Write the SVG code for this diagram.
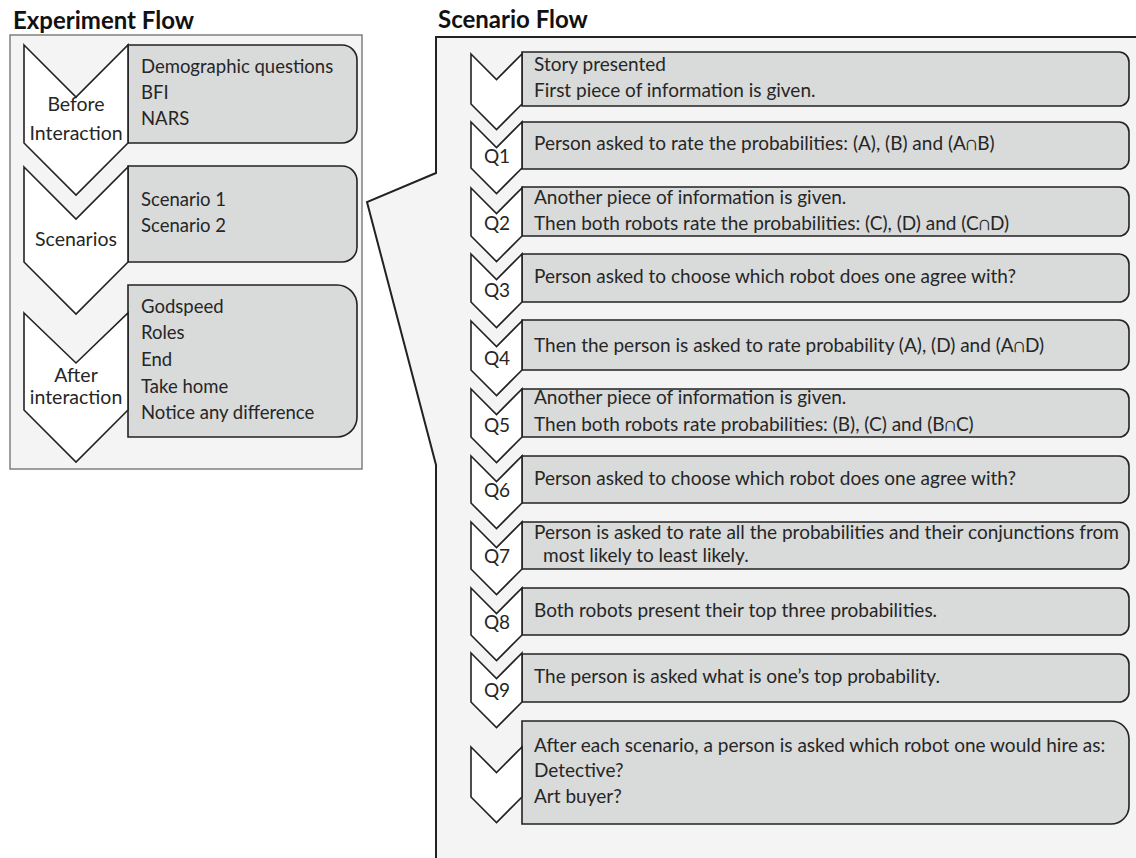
<svg xmlns="http://www.w3.org/2000/svg" width="1136" height="858" viewBox="0 0 1136 858">
<style>
text{font-family:Lato,"Liberation Sans",sans-serif;font-size:19px;fill:#262626}
.title{font-weight:bold;font-size:24px;fill:#111}
.l{font-size:18.5px}
.c{text-anchor:middle;font-size:19.5px}
.q{text-anchor:middle;font-size:19px}
.box{fill:#d9dada;stroke:#222;stroke-width:1.6}
.chev{fill:#fff;stroke:#222;stroke-width:1.6;stroke-linejoin:miter}
.lp{fill:#f4f4f4;stroke:#808080;stroke-width:1.5}
.rp{fill:#f4f4f4;stroke:#222;stroke-width:2}
</style>
<rect width="1136" height="858" fill="#fff"/>
<g id="experiment-flow">
<text class="title" x="13" y="29">Experiment Flow</text>
<rect class="lp" x="10" y="35" width="352" height="434"/>
</g>
<g id="connectors">
<polygon id="scenario-panel" class="rp" points="436,37 1140,37 1140,862 436,862 436,465 367,202 436,173"/>
</g>
<text class="title" x="438" y="28">Scenario Flow</text>

<g id="before">
<path class="box" d="M128,45 H342 A15,15 0 0 1 357,60 V128 A15,15 0 0 1 342,143 H128 Z"/>
<polygon class="chev" points="24,45 76,97 128,45 128,143 76,195 24,143"/>
<text class="c" x="76" y="111">Before</text>
<text class="c" x="76" y="140">Interaction</text>
<text class="l" x="141" y="73">Demographic questions</text>
<text class="l" x="141" y="99">BFI</text>
<text class="l" x="141" y="125">NARS</text>
</g>
<g id="scenarios">
<path class="box" d="M128,166 H342 A15,15 0 0 1 357,181 V247 A15,15 0 0 1 342,262 H128 Z"/>
<polygon class="chev" points="24,167 76,219 128,167 128,262 76,314 24,262"/>
<text class="c" x="76" y="246">Scenarios</text>
<text class="l" x="141" y="206">Scenario 1</text>
<text class="l" x="141" y="232">Scenario 2</text>
</g>
<g id="after">
<path class="box" d="M128,285 H337 A20,20 0 0 1 357,305 V417 A20,20 0 0 1 337,437 H128 Z"/>
<polygon class="chev" points="24,313 76,363 128,313 128,410 76,462 24,410"/>
<text class="c" x="76" y="382">After</text>
<text class="c" x="76" y="404">interaction</text>
<text class="l" x="141" y="313">Godspeed</text>
<text class="l" x="141" y="339">Roles</text>
<text class="l" x="141" y="366">End</text>
<text class="l" x="141" y="393">Take home</text>
<text class="l" x="141" y="419">Notice any difference</text>
</g>

<g id="s0">
<path class="box" d="M522,52 H1119 A10,10 0 0 1 1129,62 V96 A10,10 0 0 1 1119,106 H522 Z"/>
<polygon class="chev" points="471,54 496.5,79.5 522,54 522,104 496.5,129.5 471,104"/>
<text x="534" y="71">Story presented</text>
<text x="534" y="97">First piece of information is given.</text>
</g>
<g id="q1">
<path class="box" d="M522,122 H1119 A10,10 0 0 1 1129,132 V159 A10,10 0 0 1 1119,169 H522 Z"/>
<polygon class="chev" points="471,122 496.5,147.5 522,122 522,168 496.5,193.5 471,168"/>
<text class="q" x="497" y="163">Q1</text>
<text x="534" y="150">Person asked to rate the probabilities: (A), (B) and (A∩B)</text>
</g>
<g id="q2">
<path class="box" d="M522,187 H1119 A10,10 0 0 1 1129,197 V226 A10,10 0 0 1 1119,236 H522 Z"/>
<polygon class="chev" points="471,188 496.5,213.5 522,188 522,236 496.5,261.5 471,236"/>
<text class="q" x="497" y="230">Q2</text>
<text x="534" y="204">Another piece of information is given.</text>
<text x="534" y="230">Then both robots rate the probabilities: (C), (D) and (C∩D)</text>
</g>
<g id="q3">
<path class="box" d="M522,254 H1119 A10,10 0 0 1 1129,264 V292 A10,10 0 0 1 1119,302 H522 Z"/>
<polygon class="chev" points="471,254 496.5,279.5 522,254 522,302 496.5,327.5 471,302"/>
<text class="q" x="497" y="297">Q3</text>
<text x="534" y="283">Person asked to choose which robot does one agree with?</text>
</g>
<g id="q4">
<path class="box" d="M522,320 H1119 A10,10 0 0 1 1129,330 V360 A10,10 0 0 1 1119,370 H522 Z"/>
<polygon class="chev" points="471,321 496.5,346.5 522,321 522,370 496.5,395.5 471,370"/>
<text class="q" x="497" y="365">Q4</text>
<text x="534" y="352">Then the person is asked to rate probability (A), (D) and (A∩D)</text>
</g>
<g id="q5">
<path class="box" d="M522,389 H1119 A10,10 0 0 1 1129,399 V427 A10,10 0 0 1 1119,437 H522 Z"/>
<polygon class="chev" points="471,389 496.5,414.5 522,389 522,437 496.5,462.5 471,437"/>
<text class="q" x="497" y="432">Q5</text>
<text x="534" y="404">Another piece of information is given.</text>
<text x="534" y="431">Then both robots rate probabilities: (B), (C) and (B∩C)</text>
</g>
<g id="q6">
<path class="box" d="M522,456 H1119 A10,10 0 0 1 1129,466 V493 A10,10 0 0 1 1119,503 H522 Z"/>
<polygon class="chev" points="471,456 496.5,481.5 522,456 522,503 496.5,528.5 471,503"/>
<text class="q" x="497" y="497">Q6</text>
<text x="534" y="485">Person asked to choose which robot does one agree with?</text>
</g>
<g id="q7">
<path class="box" d="M522,522 H1119 A10,10 0 0 1 1129,532 V559 A10,10 0 0 1 1119,569 H522 Z"/>
<polygon class="chev" points="471,522 496.5,547.5 522,522 522,569 496.5,594.5 471,569"/>
<text class="q" x="497" y="563">Q7</text>
<text x="534" y="539">Person is asked to rate all the probabilities and their conjunctions from</text>
<text x="543" y="562">most likely to least likely.</text>
</g>
<g id="q8">
<path class="box" d="M522,588 H1119 A10,10 0 0 1 1129,598 V625 A10,10 0 0 1 1119,635 H522 Z"/>
<polygon class="chev" points="471,588 496.5,613.5 522,588 522,635 496.5,660.5 471,635"/>
<text class="q" x="497" y="629">Q8</text>
<text x="534" y="617">Both robots present their top three probabilities.</text>
</g>
<g id="q9">
<path class="box" d="M522,654 H1119 A10,10 0 0 1 1129,664 V692 A10,10 0 0 1 1119,702 H522 Z"/>
<polygon class="chev" points="471,653 496.5,678.5 522,653 522,702 496.5,727.5 471,702"/>
<text class="q" x="497" y="697">Q9</text>
<text x="534" y="683">The person is asked what is one’s top probability.</text>
</g>
<g id="final">
<path class="box" d="M522,721 H1111 A18,18 0 0 1 1129,739 V806 A18,18 0 0 1 1111,824 H522 Z"/>
<polygon class="chev" points="471,747 496.5,772.5 522,747 522,797 496.5,822.5 471,797"/>
<text x="534" y="752">After each scenario, a person is asked which robot one would hire as:</text>
<text x="534" y="777">Detective?</text>
<text x="534" y="803">Art buyer?</text>
</g>
</svg>
